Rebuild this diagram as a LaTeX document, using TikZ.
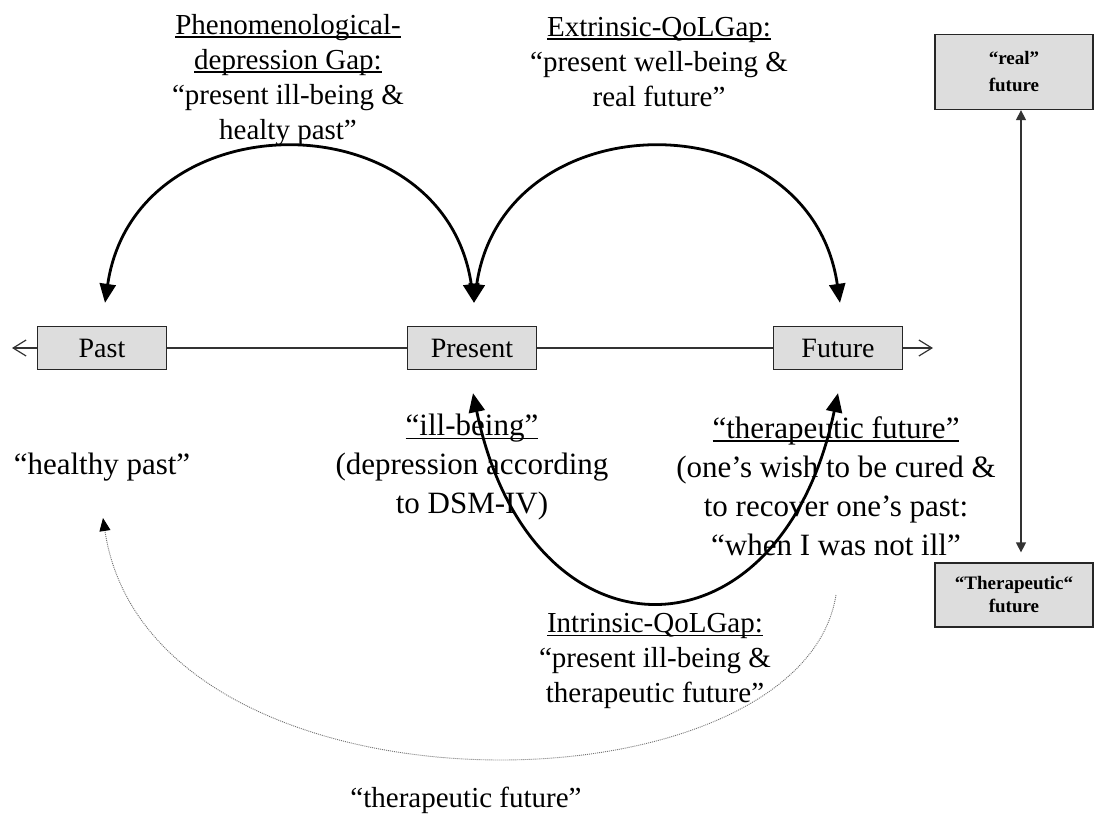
\documentclass[tikz,border=0pt]{standalone}
\usepackage{fontspec}
\setmainfont{Liberation Serif}
\usetikzlibrary{arrows.meta}
\newcommand\ulx[1]{\begingroup\setbox0=\hbox{#1}\leavevmode\rlap{\rule[-0.13em]{\wd0}{0.06em}}\box0\endgroup}
\begin{document}
\begin{tikzpicture}[x=1pt,y=-1pt,
  tbox/.style={draw=black!85, line width=1.3pt, fill=gray!27, minimum width=129pt, minimum height=43pt, inner sep=0pt, font=\fontsize{28}{34}\selectfont},
  sbox/.style={draw=black!85, line width=1.3pt, fill=gray!27, minimum width=158pt, inner sep=0pt, align=center},
  lab/.style={align=center, inner sep=0pt, font=\fontsize{29}{35}\selectfont},
  mid/.style={align=center, inner sep=0pt, font=\fontsize{31}{39}\selectfont},
  tline/.style={draw=black!80, line width=1.2pt},
  bigarc/.style={line width=2.8pt, {Triangle[width=16pt,length=19pt]}-{Triangle[width=16pt,length=19pt]}},
  vline/.style={draw=black!80, line width=1.4pt, {Triangle[width=10pt,length=10pt]}-{Triangle[width=10pt,length=10pt]}},
  dotline/.style={draw=black!55, line width=0.9pt, dash pattern=on 1pt off 1pt, -{Triangle[width=11pt,length=13pt,black]}}
]
\useasboundingbox (0,0) rectangle (1096,823);
% timeline boxes
\node[tbox] (past) at (102,348) {Past};
\node[tbox] (pres) at (472,348) {Present};
\node[tbox] (fut) at (838,348) {Future};
\coordinate (tl) at (12,348);
\coordinate (tr) at (933,348);
\draw[tline,-{Straight Barb[length=13pt,width=16pt]}] (past.west) -- (tl);
\draw[tline] (past.east) -- (pres.west);
\draw[tline] (pres.east) -- (fut.west);
\draw[tline,-{Straight Barb[length=13pt,width=16pt]}] (fut.east) -- (tr);
% right boxes
\node[sbox, minimum height=75pt, font=\fontsize{19}{27}\selectfont\bfseries] (realf) at (1014,72) {“real”\\future};
\node[sbox, minimum height=64pt, font=\fontsize{19}{23}\selectfont\bfseries] (therf) at (1014,595) {“Therapeutic“\\future};
\coordinate (ax) at (1021,0);
\coordinate (vb) at ([yshift=10pt]therf.north);
\draw[vline] (realf.south -| ax) -- (vb -| ax);
% texts
\node[lab] (gap1) at (288,80) {\ulx{Phenomenological-}\\\ulx{depression Gap:}\\“present ill-being \&\\healty past”};
\node[lab] (gap2) at (659,62) {\ulx{Extrinsic-QoLGap:}\\“present well-being \&\\real future”};
\node[mid] (ill) at (472,467) {\ulx{“ill-being”}\\(depression according\\to DSM-IV)};
\node[mid] (ther) at (836,486) {\ulx{“therapeutic future”}\\(one’s wish to be cured \&\\to recover one’s past:\\“when I was not ill”};
\node[mid] (hp) at (102,467) {“healthy past”};
\node[lab] (gap3) at (655,661) {\ulx{Intrinsic-QoLGap:}\\“present ill-being \&\\therapeutic future”};
\node[lab] (btf) at (466,800) {“therapeutic future”};
% arcs
\coordinate (pastT) at ([xshift=3pt,yshift=23pt]past.north);
\coordinate (presT) at ([xshift=2pt,yshift=23pt]pres.north);
\coordinate (futT) at ([xshift=2pt,yshift=23pt]fut.north);
\coordinate (presB) at ([xshift=1pt,yshift=-23pt]pres.south);
\coordinate (futB) at ([yshift=-23pt]fut.south);
\draw[bigarc] (pastT) .. controls (135,98) and (444,98) .. (presT);
\draw[bigarc] (presT) .. controls (504,98) and (810,98) .. (futT);
\draw[bigarc] (presB) .. controls (530,669) and (780,669) .. (futB);
% dotted
\coordinate (dstart) at (836,595);
\coordinate (dend) at (103,518);
\draw[dotline] (dstart) .. controls (800,820) and (150,830) .. (dend);
\end{tikzpicture}
\end{document}
